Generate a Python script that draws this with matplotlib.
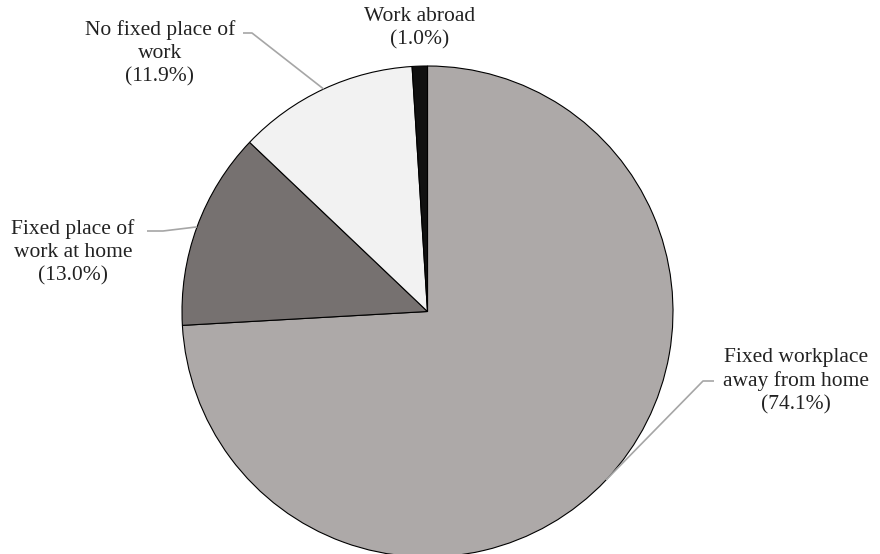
import numpy as np
import matplotlib.pyplot as plt

labels = ['Fixed workplace\naway from home', 'Fixed place of\nwork at home',
          'No fixed place of\nwork', 'Work abroad']
shares = [74.1, 13.0, 11.9, 1.0]
colors = ['#ada9a8', '#767170', '#f2f2f2', '#111111']

W, H = 880, 554
fig = plt.figure(figsize=(W / 100, H / 100), dpi=100)
ax = fig.add_axes([0, 0, 1, 1])
ax.set_xlim(0, W)
ax.set_ylim(0, H)
ax.set_aspect('equal')
ax.axis('off')

cx, cy, r = 427.5, H - 311.5, 245.5
wedges, _ = ax.pie(shares, colors=colors, startangle=90, counterclock=False,
                   center=(cx, cy), radius=r,
                   wedgeprops=dict(edgecolor='black', linewidth=0.8))
ax.set_xlim(0, W)
ax.set_ylim(0, H)

font = dict(family='Liberation Serif', fontsize=15.5, color='#222222')

# label centre, leader elbow, leader end (None = no leader)
layout = [
    ((796, 381), (703, 381), (714, 381)),
    ((73, 252), (163, 231), (147, 231)),
    ((160, 53), (252, 33), (243, 33)),
    ((420, 28), None, None),
]

for w, lab, val, (pos, elbow, end) in zip(wedges, labels, shares, layout):
    ax.text(pos[0], H - pos[1], f'{lab}\n({val:.1f}%)', ha='center', va='center',
            multialignment='center', linespacing=1.3, **font)
    if elbow is None:
        continue
    mid = np.deg2rad((w.theta1 + w.theta2) / 2)
    sx, sy = cx + r * np.cos(mid), cy + r * np.sin(mid)
    ax.plot([sx, elbow[0], end[0]], [sy, H - elbow[1], H - end[1]],
            color='#a6a6a6', lw=1.2, solid_capstyle='butt')

fig.savefig('out.png', dpi=100)
